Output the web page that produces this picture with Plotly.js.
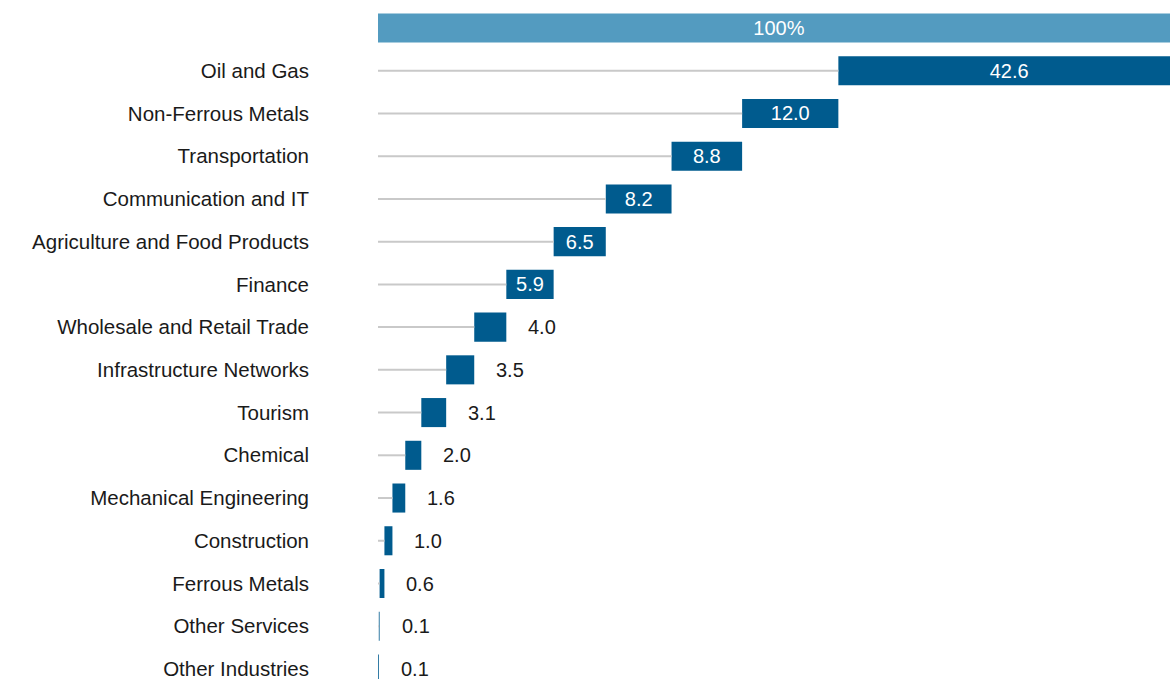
<!DOCTYPE html>
<html>
<head>
<meta charset="utf-8">
<script src="https://cdn.plot.ly/plotly-3.0.1.min.js"></script>
<style>
html, body { margin: 0; padding: 0; background: #ffffff; overflow: hidden; }
#chart { width: 1170px; height: 679px; }
</style>
</head>
<body>
<div id="chart"></div>
<script>
// ---- data ----
const totalLabel = "100%";
const totalValue = 100;
const categories = [
  "Oil and Gas",
  "Non-Ferrous Metals",
  "Transportation",
  "Communication and IT",
  "Agriculture and Food Products",
  "Finance",
  "Wholesale and Retail Trade",
  "Infrastructure Networks",
  "Tourism",
  "Chemical",
  "Mechanical Engineering",
  "Construction",
  "Ferrous Metals",
  "Other Services",
  "Other Industries"
];
const values = [42.6, 12.0, 8.8, 8.2, 6.5, 5.9, 4.0, 3.5, 3.1, 2.0, 1.6, 1.0, 0.6, 0.1, 0.1];
const insideThreshold = 5;

// ---- derived (cumulative waterfall from the right) ----
const yPos = categories.map((c, i) => i + 1);
const bases = [];
let running = totalValue;
values.forEach(v => { running -= v; bases.push(Math.max(0, +running.toFixed(6))); });

const lineX = [], lineY = [];
bases.forEach((b, i) => {
  if (b > 0) { lineX.push(0, b, null); lineY.push(yPos[i], yPos[i], null); }
});

const fontFamily = "'Liberation Sans', Arial, Helvetica, sans-serif";
const textColor = "#1a1a1a";
const fs = 20;

const traces = [
  {
    type: "scatter", mode: "lines",
    x: lineX, y: lineY,
    line: { color: "#c9c9c9", width: 2 },
    hoverinfo: "skip", showlegend: false
  },
  {
    type: "bar", orientation: "h",
    x: [totalValue], y: [0], base: [0],
    width: 0.68,
    marker: { color: "#539bc0" },
    text: [totalLabel], textposition: "inside", insidetextanchor: "middle",
    textangle: 0,
    insidetextfont: { color: "#ffffff", size: fs, family: fontFamily },
    hoverinfo: "skip", showlegend: false
  },
  {
    type: "bar", orientation: "h",
    x: values, y: yPos, base: bases,
    width: 0.68,
    marker: { color: "#005b8e" },
    text: values.map(v => v.toFixed(1)),
    textposition: values.map(v => v >= insideThreshold ? "inside" : "none"),
    insidetextanchor: "middle", textangle: 0,
    insidetextfont: { color: "#ffffff", size: fs, family: fontFamily },
    hoverinfo: "skip", showlegend: false
  }
];

const annotations = [];
values.forEach((v, i) => {
  if (v < insideThreshold) {
    annotations.push({
      x: bases[i] + v, y: yPos[i], xref: "x", yref: "y",
      text: v.toFixed(1), showarrow: false,
      xanchor: "left", yanchor: "middle", xshift: 20,
      font: { color: textColor, size: fs, family: fontFamily }
    });
  }
});

const layout = {
  width: 1170, height: 679,
  margin: { l: 378, r: 0, t: 0, b: 0, pad: 0 },
  paper_bgcolor: "#ffffff", plot_bgcolor: "#ffffff",
  barmode: "overlay",
  showlegend: false,
  font: { family: fontFamily, size: fs, color: textColor },
  xaxis: {
    range: [0, 98.75], showgrid: false, zeroline: false,
    showticklabels: false, ticks: "", showline: false, fixedrange: true
  },
  yaxis: {
    range: [15.235, -0.655],
    tickmode: "array", tickvals: yPos, ticktext: categories,
    ticks: "", ticklabelstandoff: 68, ticklabeloverflow: "allow",
    showgrid: false, zeroline: false, showline: false,
    tickfont: { family: fontFamily, size: 20.5, color: textColor },
    fixedrange: true
  },
  annotations: annotations
};

Plotly.newPlot("chart", traces, layout, { displayModeBar: false, staticPlot: true });
</script>
</body>
</html>
